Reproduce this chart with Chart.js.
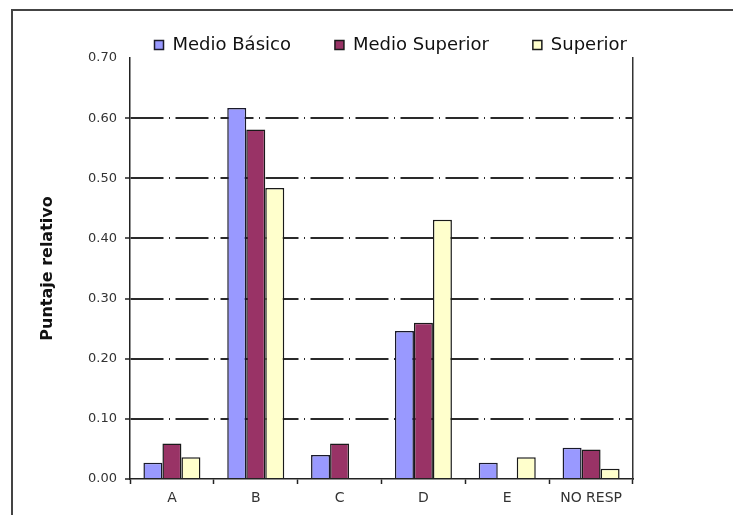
<!DOCTYPE html>
<html>
<head>
<meta charset="utf-8">
<script src="https://cdn.jsdelivr.net/npm/chart.js@4/dist/chart.umd.min.js"></script>
<style>
  html, body { margin: 0; padding: 0; background: #ffffff; }
  #wrap { position: relative; width: 733px; height: 515px; }
</style>
</head>
<body>
<div id="wrap"><canvas id="c" width="733" height="515"></canvas></div>
<script>
const categories = ['A', 'B', 'C', 'D', 'E', 'NO RESP'];
const seriesNames = ['Medio Básico', 'Medio Superior', 'Superior'];
const medioBasico = [0.027, 0.617, 0.040, 0.246, 0.027, 0.052];
const medioSuperior = [0.059, 0.581, 0.059, 0.260, 0.000, 0.049];
const superior = [0.036, 0.484, 0.000, 0.431, 0.036, 0.017];
const yTickLabels = ['0.00', '0.10', '0.20', '0.30', '0.40', '0.50', '0.60', '0.70'];
const yTitle = 'Puntaje relativo';

const framePlugin = {
  id: 'frame',
  beforeDraw(chart) {
    const ctx = chart.ctx;
    ctx.save();
    ctx.fillStyle = '#ffffff';
    ctx.fillRect(0, 0, chart.width, chart.height);
    ctx.strokeStyle = '#444444';
    ctx.lineWidth = 2;
    ctx.strokeRect(12, 10, 900, 700);
    ctx.restore();
  }
};

const hidden = 'rgba(0,0,0,0)';
const gridDark = '#2a2a2a';

new Chart(document.getElementById('c'), {
  type: 'bar',
  data: {
    labels: categories,
    datasets: [
      { label: seriesNames[0], data: medioBasico, backgroundColor: '#9999FF', borderColor: '#1a1a2a', borderWidth: 1.5 },
      { label: seriesNames[1], data: medioSuperior, backgroundColor: '#993366', borderColor: '#1a1a1a', borderWidth: 1.5 },
      { label: seriesNames[2], data: superior, backgroundColor: '#FFFFCC', borderColor: '#1a1a1a', borderWidth: 1.5 }
    ]
  },
  options: {
    responsive: false,
    animation: false,
    devicePixelRatio: 1,
    layout: { padding: { left: 34, right: 62, top: -8, bottom: 0 } },
    datasets: { bar: { categoryPercentage: 0.68, barPercentage: 1.0 } },
    plugins: {
      legend: {
        position: 'top',
        align: 'end',
        maxHeight: 66,
        labels: {
          boxWidth: 9,
          boxHeight: 9,
          padding: 44,
          color: '#111111',
          font: { family: 'DejaVu Sans', size: 18 }
        }
      },
      tooltip: { enabled: false }
    },
    scales: {
      x: {
        offset: true,
        grid: {
          offset: true,
          drawOnChartArea: false,
          drawTicks: true,
          tickLength: 5,
          tickColor: '#222222',
          tickWidth: 1.5
        },
        border: { display: true, color: '#222222', width: 1.5 },
        ticks: {
          color: '#333333',
          padding: 6,
          font: { family: 'DejaVu Sans', size: 14 },
          maxRotation: 0,
          autoSkip: false
        },
        afterFit(s) { s.height = 36; }
      },
      y: {
        min: 0,
        max: 0.7,
        ticks: {
          stepSize: 0.1,
          padding: 8,
          color: '#333333',
          font: { family: 'DejaVu Sans', size: 13 },
          callback: (v, i) => yTickLabels[i]
        },
        grid: {
          drawOnChartArea: true,
          drawTicks: true,
          tickLength: 5,
          lineWidth: 2,
          tickWidth: 1.5,
          color: c => (c.index === 0 || c.index === 7) ? hidden : gridDark,
          tickColor: c => (c.index === 7) ? hidden : '#222222'
        },
        border: { display: true, color: '#222222', width: 1.5, dash: [33, 5.5, 1, 5.5] },
        title: {
          display: true,
          text: yTitle,
          color: '#111111',
          font: { family: 'DejaVu Sans', size: 16, weight: 'bold' },
          padding: { top: 4, bottom: 4 }
        },
        afterFit(s) { s.width = 96; }
      },
      y2: {
        type: 'linear',
        position: 'right',
        display: true,
        ticks: { display: false },
        grid: { drawOnChartArea: false, drawTicks: false },
        border: { display: true, color: '#333333', width: 1.5 },
        afterFit(s) { s.width = 38; }
      }
    }
  },
  plugins: [framePlugin]
});
</script>
</body>
</html>
